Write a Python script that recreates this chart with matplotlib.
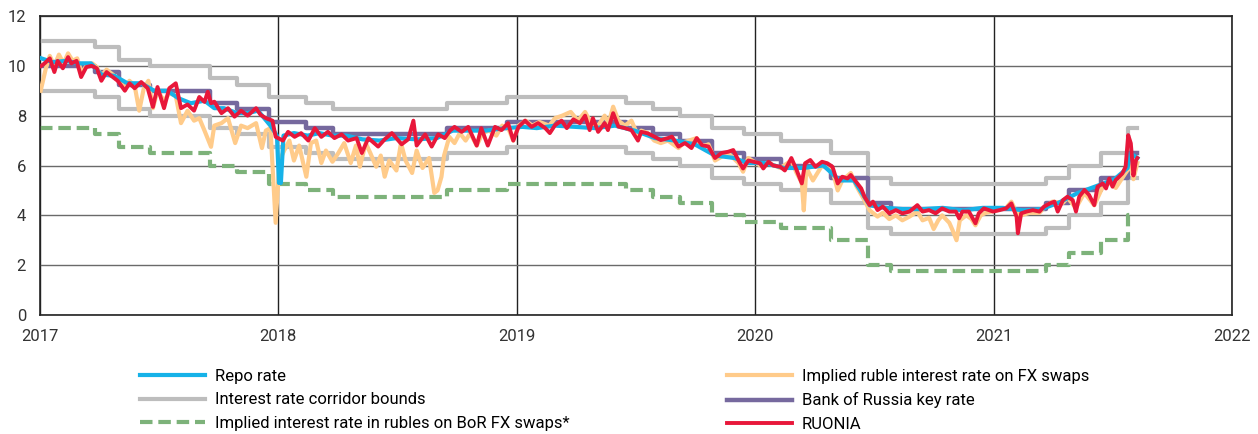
import matplotlib
matplotlib.use("Agg")
import matplotlib.pyplot as plt
import matplotlib.dates as mdates
import pandas as pd

# %%
# Data (% p.a.)

# Bank of Russia key rate decisions; corridor bounds and BoR FX swap rate move with them
step_dates = [
    "2017-01-01", "2017-03-27", "2017-05-02", "2017-06-19", "2017-09-18", "2017-10-30",
    "2017-12-18", "2018-02-12", "2018-03-26", "2018-09-17", "2018-12-17", "2019-06-17",
    "2019-07-29", "2019-09-09", "2019-10-28", "2019-12-16", "2020-02-10", "2020-04-27",
    "2020-06-22", "2020-07-27", "2021-03-22", "2021-04-26", "2021-06-15", "2021-07-26",
    "2021-08-09",
]
key_rate = [
    10.0, 9.75, 9.25, 9.0, 8.5, 8.25, 7.75, 7.5, 7.25, 7.5, 7.75, 7.5,
    7.25, 7.0, 6.5, 6.25, 6.0, 5.5, 4.5, 4.25, 4.5, 5.0, 5.5, 6.5, 6.5,
]
corridor_upper = [
    11.0, 10.75, 10.25, 10.0, 9.5, 9.25, 8.75, 8.5, 8.25, 8.5, 8.75, 8.5,
    8.25, 8.0, 7.5, 7.25, 7.0, 6.5, 5.5, 5.25, 5.5, 6.0, 6.5, 7.5, 7.5,
]
corridor_lower = [
    9.0, 8.75, 8.25, 8.0, 7.5, 7.25, 6.75, 6.5, 6.25, 6.5, 6.75, 6.5,
    6.25, 6.0, 5.5, 5.25, 5.0, 4.5, 3.5, 3.25, 3.5, 4.0, 4.5, 5.5, 5.5,
]
bor_swap_dates = step_dates[:-1] + ["2021-07-28"]
bor_swap_rate = [
    7.5, 7.25, 6.75, 6.5, 6.0, 5.75, 5.25, 5.0, 4.75, 5.0, 5.25, 5.0,
    4.75, 4.5, 4.0, 3.75, 3.5, 3.0, 2.0, 1.75, 2.0, 2.5, 3.0, 4.0, 4.0,
]

ruonia_dates = [
    "2017-01-03", "2017-01-08", "2017-01-16", "2017-01-23", "2017-01-28", "2017-02-05",
    "2017-02-13", "2017-02-18", "2017-02-26", "2017-03-05", "2017-03-13", "2017-03-21",
    "2017-03-29", "2017-04-05", "2017-04-13", "2017-04-20", "2017-04-30", "2017-05-11",
    "2017-05-18", "2017-05-26", "2017-06-05", "2017-06-15", "2017-06-23", "2017-06-30",
    "2017-07-10", "2017-07-18", "2017-07-28", "2017-08-05", "2017-08-15", "2017-08-25",
    "2017-09-02", "2017-09-10", "2017-09-15", "2017-09-20", "2017-09-25", "2017-10-06",
    "2017-10-16", "2017-10-26", "2017-11-05", "2017-11-15", "2017-11-28", "2017-12-05",
    "2017-12-13", "2017-12-23", "2017-12-28", "2018-01-08", "2018-01-16", "2018-01-26",
    "2018-02-05", "2018-02-16", "2018-02-26", "2018-03-08", "2018-03-18", "2018-03-28",
    "2018-04-08", "2018-04-18", "2018-05-01", "2018-05-09", "2018-05-19", "2018-06-03",
    "2018-06-13", "2018-06-24", "2018-07-09", "2018-07-19", "2018-07-27", "2018-08-01",
    "2018-08-14", "2018-08-24", "2018-09-03", "2018-09-13", "2018-09-21", "2018-09-28",
    "2018-10-09", "2018-10-19", "2018-11-01", "2018-11-08", "2018-11-18", "2018-11-29",
    "2018-12-09", "2018-12-19", "2018-12-27", "2019-01-04", "2019-01-14", "2019-01-24",
    "2019-02-03", "2019-02-14", "2019-02-21", "2019-03-01", "2019-03-11", "2019-03-19",
    "2019-03-29", "2019-04-08", "2019-04-16", "2019-04-23", "2019-04-28", "2019-05-06",
    "2019-05-16", "2019-05-21", "2019-05-29", "2019-06-06", "2019-06-16", "2019-06-26",
    "2019-07-06", "2019-07-11", "2019-07-21", "2019-07-31", "2019-08-10", "2019-08-21",
    "2019-08-27", "2019-09-06", "2019-09-16", "2019-09-26", "2019-10-04", "2019-10-12",
    "2019-10-22", "2019-11-01", "2019-11-11", "2019-11-21", "2019-11-29", "2019-12-07",
    "2019-12-14", "2019-12-22", "2019-12-30", "2020-01-09", "2020-01-14", "2020-01-22",
    "2020-01-29", "2020-02-09", "2020-02-16", "2020-02-26", "2020-03-05", "2020-03-13",
    "2020-03-18", "2020-03-26", "2020-04-03", "2020-04-13", "2020-04-21", "2020-04-29",
    "2020-05-07", "2020-05-14", "2020-05-22", "2020-05-27", "2020-06-04", "2020-06-12",
    "2020-06-17", "2020-06-25", "2020-06-30", "2020-07-07", "2020-07-15", "2020-07-25",
    "2020-08-04", "2020-08-14", "2020-08-25", "2020-09-06", "2020-09-14", "2020-09-24",
    "2020-10-04", "2020-10-14", "2020-10-25", "2020-11-04", "2020-11-09", "2020-11-14",
    "2020-11-24", "2020-12-04", "2020-12-09", "2020-12-17", "2020-12-31", "2021-01-10",
    "2021-01-20", "2021-01-28", "2021-02-05", "2021-02-07", "2021-02-12", "2021-02-20",
    "2021-03-02", "2021-03-12", "2021-03-19", "2021-03-28", "2021-04-04", "2021-04-09",
    "2021-04-17", "2021-04-24", "2021-05-02", "2021-05-07", "2021-05-12", "2021-05-20",
    "2021-05-27", "2021-06-04", "2021-06-09", "2021-06-17", "2021-06-22", "2021-06-27",
    "2021-07-02", "2021-07-07", "2021-07-12", "2021-07-17", "2021-07-22", "2021-07-26",
    "2021-07-30", "2021-08-03", "2021-08-07", "2021-08-09",
]
ruonia = [
    10.0, 10.1, 10.3, 9.75, 10.2, 9.9,
    10.35, 10.1, 10.2, 9.55, 9.95, 10.0,
    9.9, 9.4, 9.75, 9.6, 9.4, 9.0,
    9.3, 9.1, 9.35, 9.1, 8.35, 9.15,
    8.3, 9.1, 9.3, 8.3, 8.45, 8.2,
    8.75, 8.55, 8.96, 8.5, 8.56, 8.1,
    8.3, 7.96, 8.2, 8.0, 8.3, 8.03,
    7.9, 7.8, 7.15, 7.0, 7.35, 7.15,
    7.3, 7.0, 7.5, 7.15, 7.35, 7.1,
    7.25, 7.0, 7.1, 6.5, 7.1, 6.76,
    7.05, 7.3, 6.85, 7.05, 7.8, 6.8,
    7.25, 6.76, 7.25, 7.1, 7.4, 7.55,
    7.35, 7.55, 6.8, 7.5, 6.8, 7.55,
    7.42, 7.7, 7.0, 7.55, 7.8, 7.55,
    7.7, 7.5, 7.3, 7.62, 7.8, 7.5,
    7.85, 7.7, 8.0, 7.42, 7.9, 7.35,
    7.7, 7.42, 8.1, 7.56, 7.5, 7.42,
    7.0, 7.35, 7.29, 7.16, 7.02, 7.1,
    7.16, 6.76, 6.9, 6.7, 7.1, 6.82,
    6.76, 6.3, 6.5, 6.55, 6.62, 6.2,
    5.88, 6.2, 6.15, 6.09, 5.88, 6.15,
    6.0, 5.95, 5.8, 6.3, 5.82, 5.28,
    6.09, 6.22, 5.95, 6.15, 6.09, 5.95,
    5.28, 5.55, 5.48, 5.62, 5.35, 5.08,
    4.75, 4.41, 4.55, 4.21, 4.35, 4.08,
    4.21, 4.08, 4.15, 4.41, 4.15, 4.21,
    4.08, 4.28, 4.15, 4.15, 3.88, 4.15,
    4.15, 3.68, 4.08, 4.28, 4.15, 4.21,
    4.28, 4.48, 3.94, 3.28, 4.08, 4.15,
    4.21, 4.15, 4.35, 4.48, 4.55, 4.15,
    4.61, 4.75, 4.61, 4.15, 4.75, 5.02,
    4.82, 4.41, 5.15, 5.28, 5.08, 5.48,
    5.15, 5.42, 5.55, 5.68, 5.95, 7.22,
    6.89, 5.6, 6.22, 6.3,
]

repo_dates = [
    "2017-01-03", "2017-01-20", "2017-02-10", "2017-03-01", "2017-03-20", "2017-04-05",
    "2017-04-25", "2017-05-15", "2017-06-05", "2017-06-25", "2017-07-15", "2017-08-01",
    "2017-08-20", "2017-09-10", "2017-09-25", "2017-10-10", "2017-10-30", "2017-11-15",
    "2017-12-01", "2017-12-20", "2017-12-30", "2018-01-02", "2018-01-05", "2018-01-09",
    "2018-01-25", "2018-02-15", "2018-03-05", "2018-03-25", "2018-04-15", "2018-05-10",
    "2018-06-05", "2018-07-01", "2018-08-01", "2018-09-01", "2018-09-25", "2018-10-20",
    "2018-11-15", "2018-12-15", "2019-01-10", "2019-02-01", "2019-03-01", "2019-04-01",
    "2019-05-01", "2019-06-01", "2019-07-01", "2019-08-01", "2019-09-01", "2019-10-01",
    "2019-11-01", "2019-12-01", "2019-12-20", "2020-01-15", "2020-02-15", "2020-03-15",
    "2020-04-15", "2020-05-10", "2020-06-01", "2020-06-25", "2020-07-20", "2020-08-15",
    "2020-09-15", "2020-10-15", "2020-11-15", "2020-12-15", "2021-01-15", "2021-02-15",
    "2021-03-15", "2021-04-10", "2021-05-10", "2021-06-10", "2021-07-05", "2021-07-25",
    "2021-07-29", "2021-08-09",
]
repo = [
    10.3, 10.15, 10.2, 10.1, 10.1, 9.65,
    9.6, 9.3, 9.3, 9.0, 9.0, 8.7,
    8.5, 8.6, 8.3, 8.3, 8.1, 8.1,
    8.2, 7.6, 7.2, 5.3, 5.3, 7.2,
    7.3, 7.2, 7.3, 7.2, 7.2, 7.05,
    7.0, 7.1, 7.05, 7.1, 7.4, 7.4,
    7.4, 7.5, 7.55, 7.5, 7.6, 7.55,
    7.5, 7.6, 7.4, 7.1, 7.0, 6.85,
    6.4, 6.3, 6.1, 6.1, 5.9, 5.9,
    6.0, 5.4, 5.4, 4.4, 4.3, 4.25,
    4.25, 4.3, 4.2, 4.3, 4.3, 4.2,
    4.25, 4.5, 4.9, 5.2, 5.45, 5.9,
    6.5, 6.3,
]

fx_swap_dates = [
    "2017-01-02", "2017-01-10", "2017-01-16", "2017-01-23", "2017-01-30", "2017-02-06",
    "2017-02-13", "2017-02-20", "2017-02-27", "2017-03-06", "2017-03-14", "2017-03-22",
    "2017-03-29", "2017-04-05", "2017-04-13", "2017-04-20", "2017-04-30", "2017-05-11",
    "2017-05-18", "2017-05-26", "2017-06-02", "2017-06-09", "2017-06-16", "2017-06-23",
    "2017-06-30", "2017-07-10", "2017-07-18", "2017-07-28", "2017-08-05", "2017-08-15",
    "2017-08-25", "2017-09-02", "2017-09-10", "2017-09-20", "2017-09-25", "2017-10-06",
    "2017-10-16", "2017-10-27", "2017-11-05", "2017-11-15", "2017-11-28", "2017-12-07",
    "2017-12-13", "2017-12-20", "2017-12-28", "2018-01-03", "2018-01-10", "2018-01-18",
    "2018-01-25", "2018-02-02", "2018-02-13", "2018-02-20", "2018-02-28", "2018-03-08",
    "2018-03-15", "2018-03-25", "2018-04-03", "2018-04-12", "2018-04-22", "2018-04-30",
    "2018-05-06", "2018-05-15", "2018-05-22", "2018-05-31", "2018-06-07", "2018-06-13",
    "2018-06-20", "2018-07-01", "2018-07-08", "2018-07-15", "2018-07-25", "2018-08-01",
    "2018-08-10", "2018-08-20", "2018-08-28", "2018-09-02", "2018-09-08", "2018-09-12",
    "2018-09-20", "2018-09-28", "2018-10-06", "2018-10-15", "2018-10-22", "2018-11-01",
    "2018-11-10", "2018-11-20", "2018-12-01", "2018-12-10", "2018-12-20", "2018-12-27",
    "2019-01-04", "2019-01-15", "2019-01-25", "2019-02-05", "2019-02-20", "2019-03-01",
    "2019-03-12", "2019-03-25", "2019-04-05", "2019-04-16", "2019-04-25", "2019-05-06",
    "2019-05-16", "2019-05-22", "2019-05-29", "2019-06-06", "2019-06-16", "2019-06-26",
    "2019-07-06", "2019-07-11", "2019-07-21", "2019-07-31", "2019-08-10", "2019-08-21",
    "2019-09-06", "2019-09-16", "2019-10-04", "2019-10-12", "2019-10-22", "2019-11-01",
    "2019-11-21", "2019-12-07", "2019-12-14", "2019-12-22", "2020-01-09", "2020-01-22",
    "2020-02-09", "2020-02-26", "2020-03-05", "2020-03-13", "2020-03-16", "2020-03-20",
    "2020-03-30", "2020-04-13", "2020-04-29", "2020-05-07", "2020-05-14", "2020-05-27",
    "2020-06-04", "2020-06-17", "2020-06-25", "2020-07-07", "2020-07-15", "2020-07-25",
    "2020-08-04", "2020-08-14", "2020-08-25", "2020-09-06", "2020-09-14", "2020-09-24",
    "2020-10-01", "2020-10-08", "2020-10-14", "2020-10-25", "2020-10-30", "2020-11-05",
    "2020-11-10", "2020-11-20", "2020-11-28", "2020-12-04", "2020-12-12", "2020-12-20",
    "2021-01-05", "2021-01-20", "2021-01-28", "2021-02-05", "2021-02-12", "2021-02-25",
    "2021-03-12", "2021-03-19", "2021-04-01", "2021-04-17", "2021-04-24", "2021-05-07",
    "2021-05-20", "2021-06-04", "2021-06-17", "2021-06-27", "2021-07-07", "2021-07-17",
    "2021-07-22", "2021-07-30", "2021-08-03", "2021-08-09",
]
fx_swap = [
    9.0, 9.9, 10.4, 10.0, 10.45, 10.1,
    10.5, 10.2, 10.3, 9.7, 10.05, 10.1,
    9.95, 9.6, 9.85, 9.7, 9.5, 9.1,
    9.4, 9.2, 8.2, 9.1, 9.4, 8.3,
    9.0, 8.6, 8.9, 8.8, 7.7, 8.2,
    7.8, 7.9, 7.4, 6.75, 7.6, 7.7,
    7.9, 6.9, 7.6, 7.5, 7.7, 6.7,
    7.4, 7.5, 3.7, 6.2, 6.6, 7.0,
    6.2, 6.8, 5.55, 6.9, 7.0, 6.1,
    6.6, 6.15, 6.5, 6.9, 6.1, 6.8,
    5.95, 6.9, 6.5, 5.95, 6.4, 5.55,
    6.2, 5.8, 6.9, 6.2, 5.7, 6.6,
    5.9, 6.3, 4.9, 5.0, 5.55, 6.4,
    7.15, 6.9, 7.3, 7.0, 7.3, 6.8,
    7.3, 7.4, 7.2, 7.6, 7.45, 7.0,
    7.6, 7.8, 7.6, 7.75, 7.6, 7.9,
    8.0, 8.15, 7.8, 8.15, 7.7, 7.6,
    8.0, 7.7, 8.36, 7.8, 7.6, 7.8,
    7.2, 7.4, 7.3, 7.0, 6.9, 7.0,
    6.7, 6.95, 7.1, 6.75, 6.85, 6.2,
    6.5, 6.1, 5.75, 6.3, 6.0, 6.1,
    5.9, 6.2, 5.7, 5.3, 4.2, 5.9,
    5.4, 6.0, 5.8, 5.0, 5.4, 5.7,
    5.2, 4.6, 4.2, 3.95, 4.1, 3.85,
    4.0, 3.8, 3.95, 4.15, 3.8, 3.9,
    3.45, 3.8, 4.0, 3.7, 3.4, 3.0,
    3.8, 4.0, 3.85, 3.6, 4.0, 4.1,
    4.2, 4.3, 4.55, 4.1, 4.0, 4.1,
    4.1, 4.3, 4.55, 4.5, 4.7, 4.3,
    4.9, 4.4, 5.15, 5.3, 5.1, 5.5,
    5.7, 6.0, 5.45, 6.1,
]

year_ticks = ["2017", "2018", "2019", "2020", "2021", "2022"]
y_ticks = [0, 2, 4, 6, 8, 10, 12]

# %%
# Plot
plt.rcParams["font.family"] = ["Roboto", "DejaVu Sans"]

fig = plt.figure(figsize=(12.58, 4.34), dpi=100)
ax = fig.add_axes([40 / 1258, 1 - 315 / 434, 1192 / 1258, 299 / 434])

lw = 3.0
h_corr, = ax.step(pd.to_datetime(step_dates), corridor_upper, where="post",
                  color="#BDBDBD", lw=lw, zorder=2)
ax.step(pd.to_datetime(step_dates), corridor_lower, where="post",
        color="#BDBDBD", lw=lw, zorder=2)
h_bor, = ax.step(pd.to_datetime(bor_swap_dates), bor_swap_rate, where="post",
                 color="#7DB27A", lw=lw, dashes=(3.0, 1.4), zorder=2)
h_key, = ax.step(pd.to_datetime(step_dates), key_rate, where="post",
                 color="#76699E", lw=3.2, zorder=3)
h_fx, = ax.plot(pd.to_datetime(fx_swap_dates), fx_swap, color="#FFCB8A", lw=lw, zorder=4)
h_repo, = ax.plot(pd.to_datetime(repo_dates), repo, color="#16B2E8", lw=lw, zorder=5)
h_ruonia, = ax.plot(pd.to_datetime(ruonia_dates), ruonia, color="#E8173A", lw=2.8, zorder=6)

# Axes and grid
ax.set_xlim(pd.Timestamp("2017-01-01"), pd.Timestamp("2022-01-01"))
ax.set_ylim(0, 12)
ax.set_xticks(pd.to_datetime([y + "-01-01" for y in year_ticks]))
ax.xaxis.set_major_formatter(mdates.DateFormatter("%Y"))
ax.set_yticks(y_ticks)
ax.tick_params(length=0, labelsize=12, colors="#333333")
ax.tick_params(axis="x", pad=10)
ax.tick_params(axis="y", pad=10)
ax.grid(axis="y", color="#6A6A6A", lw=1.0, zorder=0)
ax.grid(axis="x", color="#222222", lw=1.0, zorder=0)
for sp in ax.spines.values():
    sp.set_color("#222222")
    sp.set_linewidth(1.2)

# Legend in two columns under the chart
leg_kw = dict(loc="upper left", frameon=False, borderpad=0, borderaxespad=0,
              handlelength=3.9, handletextpad=0.6, labelspacing=0.5, fontsize=12)
fig.legend([h_repo, h_corr, h_bor],
           ["Repo rate", "Interest rate corridor bounds",
            "Implied interest rate in rubles on BoR FX swaps*"],
           bbox_to_anchor=(140 / 1258, 1 - 369 / 434), **leg_kw)
fig.legend([h_fx, h_key, h_ruonia],
           ["Implied ruble interest rate on FX swaps", "Bank of Russia key rate", "RUONIA"],
           bbox_to_anchor=(727 / 1258, 1 - 369 / 434), **leg_kw)

fig.savefig("out.png", dpi=100)
